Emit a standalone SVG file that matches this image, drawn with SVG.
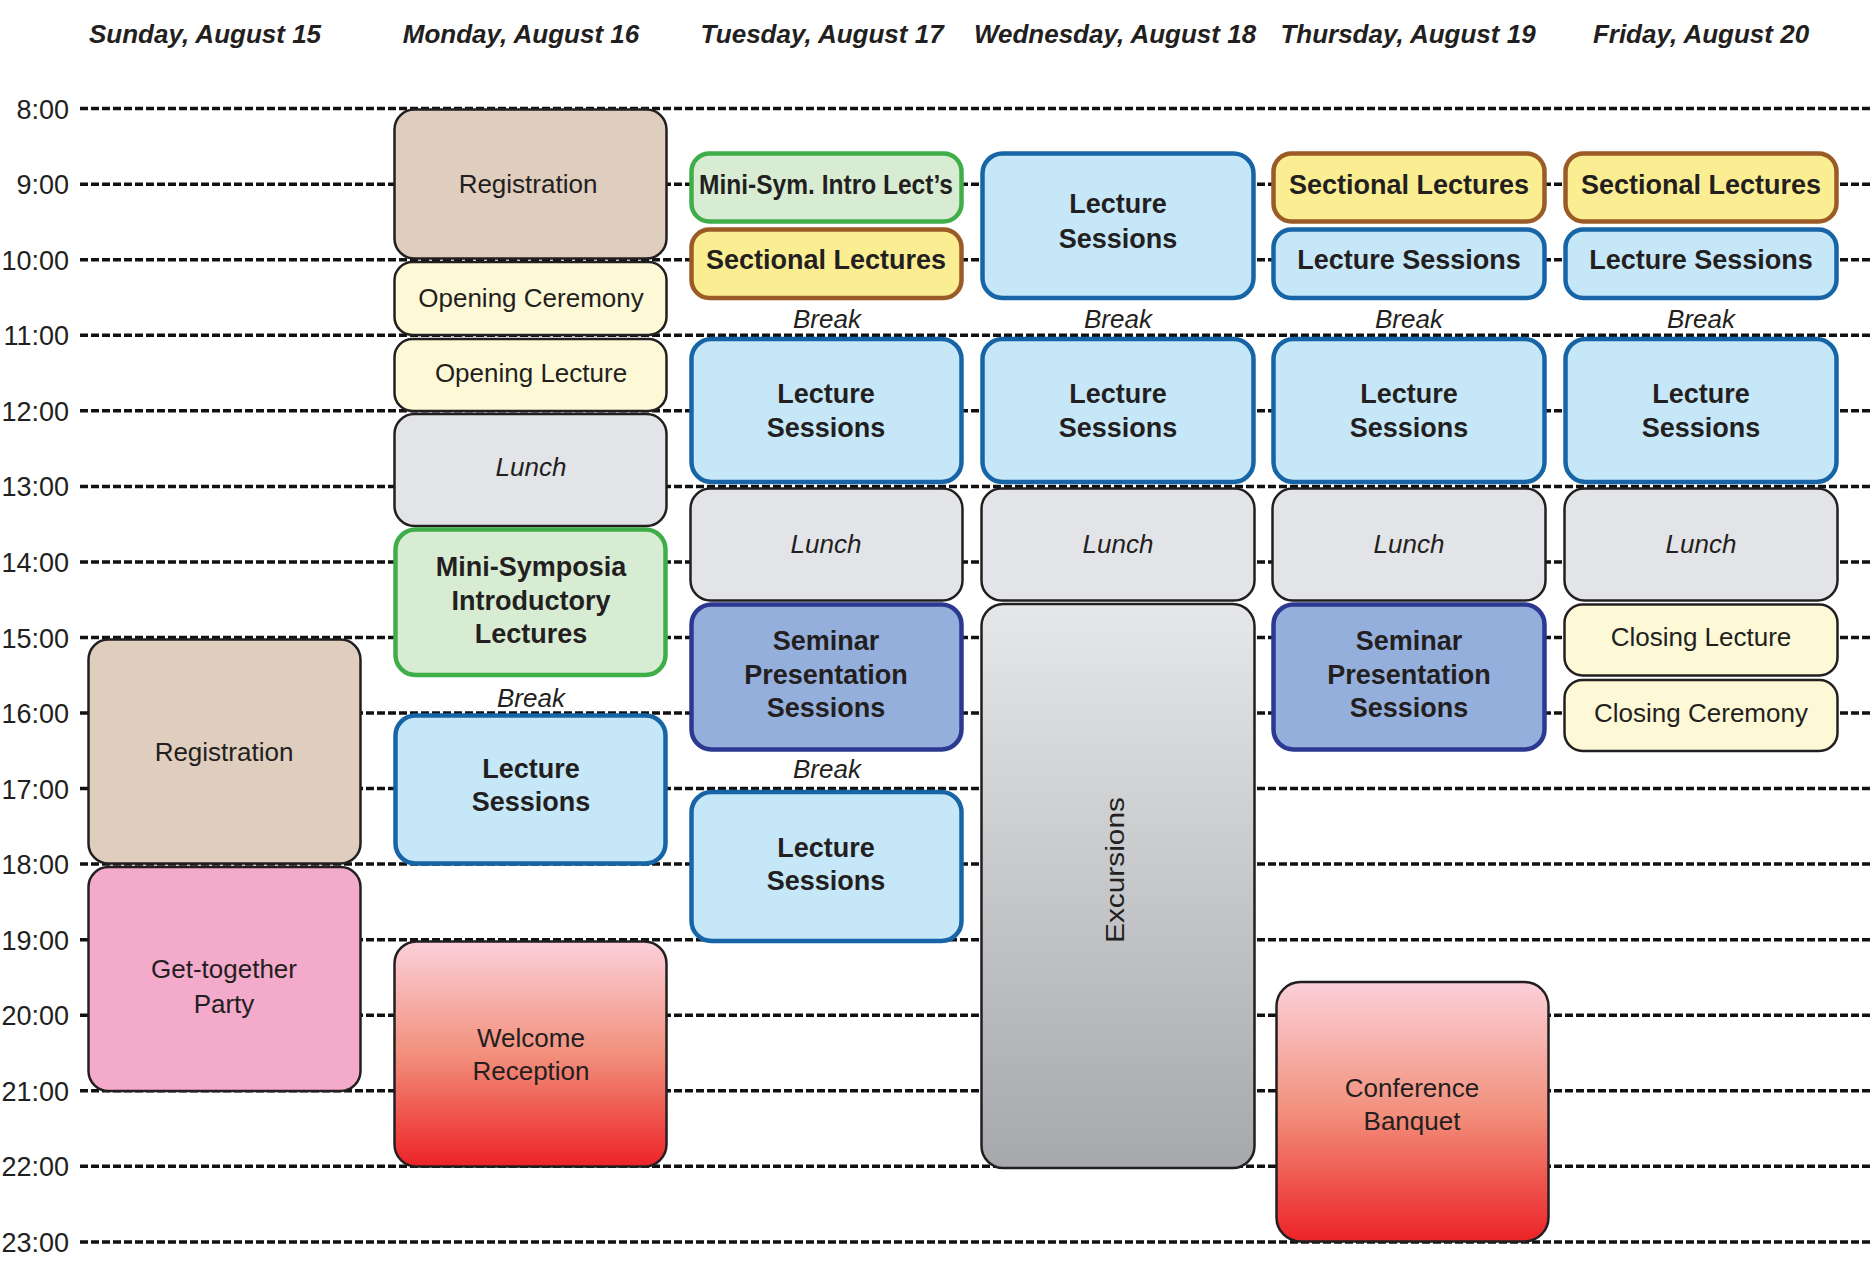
<svg xmlns="http://www.w3.org/2000/svg" width="1872" height="1261" viewBox="0 0 1872 1261">
<defs>
<linearGradient id="gRed" x1="0" y1="0" x2="0" y2="1">
<stop offset="0" stop-color="#fbd0d9"/>
<stop offset="0.5" stop-color="#f2907c"/>
<stop offset="1" stop-color="#ec2327"/>
</linearGradient>
<linearGradient id="gGray" x1="0" y1="0" x2="0" y2="1">
<stop offset="0" stop-color="#e6e7e9"/>
<stop offset="1" stop-color="#a6a8ab"/>
</linearGradient>
<style>
text{font-family:"Liberation Sans",Arial,Helvetica,sans-serif;fill:#231f20;text-anchor:middle}
.hdr{font-size:26px;font-weight:bold;font-style:italic}
.tm{font-size:27px;text-anchor:end}
.grid line{stroke:#111;stroke-width:3.5;stroke-dasharray:8 3}
.lbl{font-size:26px}
.b{font-size:27px;font-weight:bold}
.it{font-size:26px;font-style:italic}
.dk{stroke:#231f20;stroke-width:2.5}
.tan{fill:#dfcdbd}
.ylw{fill:#fdf8d6}
.lun{fill:#e3e4e7}
.pink{fill:#f4aacb}
.red{fill:url(#gRed)}
.exc{fill:url(#gGray)}
.grn{fill:#d7ecd3;stroke:#3fae49;stroke-width:4.5}
.blu{fill:#c6e7f8;stroke:#1765a6;stroke-width:4.5}
.sec{fill:#fbed92;stroke:#9b5b26;stroke-width:4.5}
.sem{fill:#95afdd;stroke:#2b3990;stroke-width:4.5}
</style>
</defs>
<rect width="1872" height="1261" fill="#ffffff"/>

<g id="headers">
<text class="hdr" x="205" y="43">Sunday, August 15</text>
<text class="hdr" x="521" y="43">Monday, August 16</text>
<text class="hdr" x="822" y="43">Tuesday, August 17</text>
<text class="hdr" x="1115" y="43">Wednesday, August 18</text>
<text class="hdr" x="1408" y="43">Thursday, August 19</text>
<text class="hdr" x="1701" y="43">Friday, August 20</text>
</g>

<g id="times">
<text class="tm" x="69" y="118.6">8:00</text>
<text class="tm" x="69" y="194.2">9:00</text>
<text class="tm" x="69" y="269.7">10:00</text>
<text class="tm" x="69" y="345.3">11:00</text>
<text class="tm" x="69" y="420.8">12:00</text>
<text class="tm" x="69" y="496.4">13:00</text>
<text class="tm" x="69" y="571.9">14:00</text>
<text class="tm" x="69" y="647.5">15:00</text>
<text class="tm" x="69" y="723">16:00</text>
<text class="tm" x="69" y="798.6">17:00</text>
<text class="tm" x="69" y="874.1">18:00</text>
<text class="tm" x="69" y="949.7">19:00</text>
<text class="tm" x="69" y="1025.2">20:00</text>
<text class="tm" x="69" y="1100.8">21:00</text>
<text class="tm" x="69" y="1176.3">22:00</text>
<text class="tm" x="69" y="1251.9">23:00</text>
</g>

<g id="connectors" class="grid">
<line x1="80" y1="108.6" x2="1872" y2="108.6"/>
<line x1="80" y1="184.2" x2="1872" y2="184.2"/>
<line x1="80" y1="259.7" x2="1872" y2="259.7"/>
<line x1="80" y1="335.3" x2="1872" y2="335.3"/>
<line x1="80" y1="410.8" x2="1872" y2="410.8"/>
<line x1="80" y1="486.4" x2="1872" y2="486.4"/>
<line x1="80" y1="561.9" x2="1872" y2="561.9"/>
<line x1="80" y1="637.5" x2="1872" y2="637.5"/>
<line x1="80" y1="713" x2="1872" y2="713"/>
<line x1="80" y1="788.6" x2="1872" y2="788.6"/>
<line x1="80" y1="864.1" x2="1872" y2="864.1"/>
<line x1="80" y1="939.7" x2="1872" y2="939.7"/>
<line x1="80" y1="1015.2" x2="1872" y2="1015.2"/>
<line x1="80" y1="1090.8" x2="1872" y2="1090.8"/>
<line x1="80" y1="1166.3" x2="1872" y2="1166.3"/>
<line x1="80" y1="1241.9" x2="1872" y2="1241.9"/>
</g>

<!-- Sunday -->
<g id="sun-registration"><rect class="tan dk" x="88.5" y="639.5" width="272" height="224" rx="20"/><text class="lbl" x="224" y="760.5">Registration</text></g>
<g id="sun-party"><rect class="pink dk" x="88.5" y="867" width="272" height="224" rx="20"/><text class="lbl" x="224" y="978">Get-together</text><text class="lbl" x="224" y="1013">Party</text></g>

<!-- Monday -->
<g id="mon-registration"><rect class="tan dk" x="394.5" y="109.5" width="272" height="149" rx="20"/><text class="lbl" x="528" y="192.5">Registration</text></g>
<g id="mon-opening-ceremony"><rect class="ylw dk" x="394.5" y="262" width="272" height="73" rx="18"/><text class="lbl" x="531" y="307">Opening Ceremony</text></g>
<g id="mon-opening-lecture"><rect class="ylw dk" x="394.5" y="339" width="272" height="72" rx="18"/><text class="lbl" x="531" y="382">Opening Lecture</text></g>
<g id="mon-lunch"><rect class="lun dk" x="394.5" y="414" width="272" height="112" rx="20"/><text class="it" x="531" y="476">Lunch</text></g>
<g id="mon-minisymposia"><rect class="grn" x="395.5" y="529.5" width="270" height="145.5" rx="20"/><text class="b" x="531" y="576">Mini-Symposia</text><text class="b" x="531" y="609.5">Introductory</text><text class="b" x="531" y="643">Lectures</text></g>
<g id="mon-break"><text class="it" x="531" y="707">Break</text></g>
<g id="mon-lecture"><rect class="blu" x="395.5" y="715.5" width="270" height="148" rx="20"/><text class="b" x="531" y="778">Lecture</text><text class="b" x="531" y="811">Sessions</text></g>
<g id="mon-welcome"><rect class="red dk" x="394.5" y="941.5" width="272" height="225" rx="22"/><text class="lbl" x="531" y="1047">Welcome</text><text class="lbl" x="531" y="1080">Reception</text></g>

<!-- Tuesday -->
<g id="tue-minisym"><rect class="grn" x="691.5" y="153.5" width="270" height="68" rx="18"/><text class="b" x="826" y="194" textLength="254" lengthAdjust="spacingAndGlyphs">Mini-Sym. Intro Lect’s</text></g>
<g id="tue-sectional"><rect class="sec" x="691.5" y="229.5" width="270" height="68.5" rx="18"/><text class="b" x="826" y="269">Sectional Lectures</text></g>
<g id="tue-break1"><text class="it" x="827" y="328">Break</text></g>
<g id="tue-lecture1"><rect class="blu" x="691.5" y="339" width="270" height="143" rx="20"/><text class="b" x="826" y="403">Lecture</text><text class="b" x="826" y="437">Sessions</text></g>
<g id="tue-lunch"><rect class="lun dk" x="690.5" y="488.5" width="272" height="112" rx="20"/><text class="it" x="826" y="553">Lunch</text></g>
<g id="tue-seminar"><rect class="sem" x="691.5" y="604.5" width="270" height="145" rx="20"/><text class="b" x="826" y="650">Seminar</text><text class="b" x="826" y="684">Presentation</text><text class="b" x="826" y="717">Sessions</text></g>
<g id="tue-break2"><text class="it" x="827" y="778">Break</text></g>
<g id="tue-lecture2"><rect class="blu" x="691.5" y="792" width="270" height="149" rx="20"/><text class="b" x="826" y="857">Lecture</text><text class="b" x="826" y="890">Sessions</text></g>

<!-- Wednesday -->
<g id="wed-lecture1"><rect class="blu" x="982.5" y="153.5" width="271" height="144.5" rx="20"/><text class="b" x="1118" y="213">Lecture</text><text class="b" x="1118" y="248">Sessions</text></g>
<g id="wed-break"><text class="it" x="1118" y="328">Break</text></g>
<g id="wed-lecture2"><rect class="blu" x="982.5" y="339" width="271" height="143" rx="20"/><text class="b" x="1118" y="403">Lecture</text><text class="b" x="1118" y="437">Sessions</text></g>
<g id="wed-lunch"><rect class="lun dk" x="981.5" y="488.5" width="273" height="112" rx="20"/><text class="it" x="1118" y="553">Lunch</text></g>
<g id="wed-excursions"><rect class="exc dk" x="981.5" y="604" width="273" height="564" rx="22"/><text class="lbl" transform="translate(1124 870) rotate(-90)" textLength="146" lengthAdjust="spacingAndGlyphs">Excursions</text></g>

<!-- Thursday -->
<g id="thu-sectional"><rect class="sec" x="1273.5" y="153.5" width="271" height="68" rx="18"/><text class="b" x="1409" y="194">Sectional Lectures</text></g>
<g id="thu-lecture1"><rect class="blu" x="1273.5" y="229.5" width="271" height="68.5" rx="18"/><text class="b" x="1409" y="269">Lecture Sessions</text></g>
<g id="thu-break"><text class="it" x="1409" y="328">Break</text></g>
<g id="thu-lecture2"><rect class="blu" x="1273.5" y="339" width="271" height="143" rx="20"/><text class="b" x="1409" y="403">Lecture</text><text class="b" x="1409" y="437">Sessions</text></g>
<g id="thu-lunch"><rect class="lun dk" x="1272.5" y="488.5" width="273" height="112" rx="20"/><text class="it" x="1409" y="553">Lunch</text></g>
<g id="thu-seminar"><rect class="sem" x="1273.5" y="604.5" width="271" height="145" rx="20"/><text class="b" x="1409" y="650">Seminar</text><text class="b" x="1409" y="684">Presentation</text><text class="b" x="1409" y="717">Sessions</text></g>
<g id="thu-banquet"><rect class="red dk" x="1276.5" y="982" width="272" height="259.5" rx="24"/><text class="lbl" x="1412" y="1097">Conference</text><text class="lbl" x="1412" y="1130">Banquet</text></g>

<!-- Friday -->
<g id="fri-sectional"><rect class="sec" x="1565.5" y="153.5" width="271" height="68" rx="18"/><text class="b" x="1701" y="194">Sectional Lectures</text></g>
<g id="fri-lecture1"><rect class="blu" x="1565.5" y="229.5" width="271" height="68.5" rx="18"/><text class="b" x="1701" y="269">Lecture Sessions</text></g>
<g id="fri-break"><text class="it" x="1701" y="328">Break</text></g>
<g id="fri-lecture2"><rect class="blu" x="1565.5" y="339" width="271" height="143" rx="20"/><text class="b" x="1701" y="403">Lecture</text><text class="b" x="1701" y="437">Sessions</text></g>
<g id="fri-lunch"><rect class="lun dk" x="1564.5" y="488.5" width="273" height="112" rx="20"/><text class="it" x="1701" y="553">Lunch</text></g>
<g id="fri-closing-lecture"><rect class="ylw dk" x="1564.5" y="604.5" width="273" height="71" rx="18"/><text class="lbl" x="1701" y="646">Closing Lecture</text></g>
<g id="fri-closing-ceremony"><rect class="ylw dk" x="1564.5" y="680" width="273" height="71" rx="18"/><text class="lbl" x="1701" y="722">Closing Ceremony</text></g>
</svg>
